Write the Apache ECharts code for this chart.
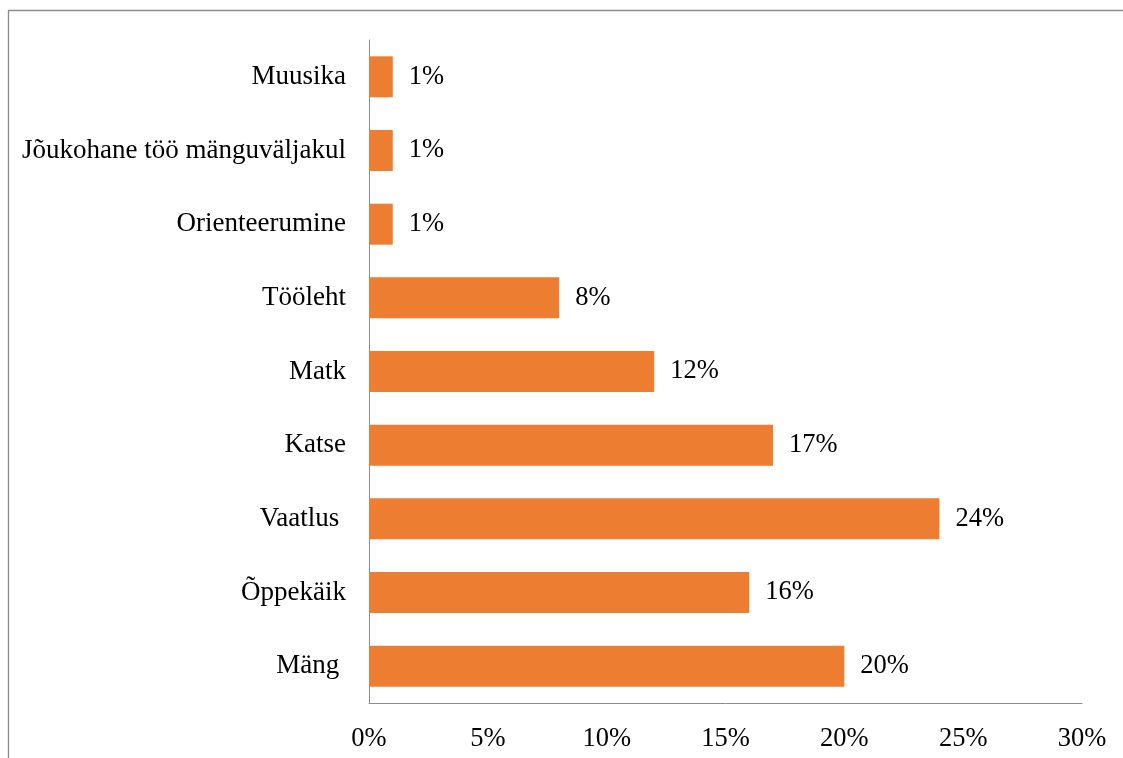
<!DOCTYPE html>
<html><head><meta charset="utf-8">
<script src="https://cdn.jsdelivr.net/npm/echarts@6/dist/echarts.min.js"></script>
<style>html,body{margin:0;padding:0;background:#fff}#c{width:1123px;height:758px}</style>
</head><body><div id="c"></div>
<script>
const categories = ['Mäng ', 'Õppekäik', 'Vaatlus ', 'Katse', 'Matk', 'Tööleht', 'Orienteerumine', 'Jõukohane töö mänguväljakul', 'Muusika'];
const values = [20, 16, 24, 17, 12, 8, 1, 1, 1];
const xTicks = [0, 5, 10, 15, 20, 25, 30];

const chart = echarts.init(document.getElementById('c'), null, {renderer: 'canvas'});
const font = '"Liberation Serif", "Times New Roman", serif';
chart.setOption({
  animation: false,
  textStyle: {fontFamily: font},
  graphic: [{
    type: 'rect', x: 0, y: 0, shape: {x: 8.5, y: 10.5, width: 1300, height: 900},
    style: {fill: 'none', stroke: '#8c8c8c', lineWidth: 1.3}, silent: true, z: -1
  }],
  grid: {left: 369, right: 41, top: 40, bottom: 55, containLabel: false},
  xAxis: {
    type: 'value', min: xTicks[0], max: xTicks[xTicks.length - 1], interval: 5,
    axisLine: {show: true, lineStyle: {color: '#8c8c8c', width: 1}},
    axisTick: {show: false}, splitLine: {show: false},
    axisLabel: {formatter: v => v + '%', color: '#000', fontSize: 26.5, fontFamily: font, margin: 23}
  },
  yAxis: {
    type: 'category', data: categories,
    axisLine: {show: true, lineStyle: {color: '#8c8c8c', width: 1}},
    axisTick: {show: false},
    axisLabel: {color: '#000', fontSize: 27, fontFamily: font, margin: 23}
  },
  series: [{
    type: 'bar', data: values, barWidth: 41,
    itemStyle: {color: '#ED7D31'},
    label: {show: true, position: 'right', distance: 16, formatter: p => p.value + '%', color: '#000', fontSize: 26.5, fontFamily: font}
  }]
});
</script></body></html>
